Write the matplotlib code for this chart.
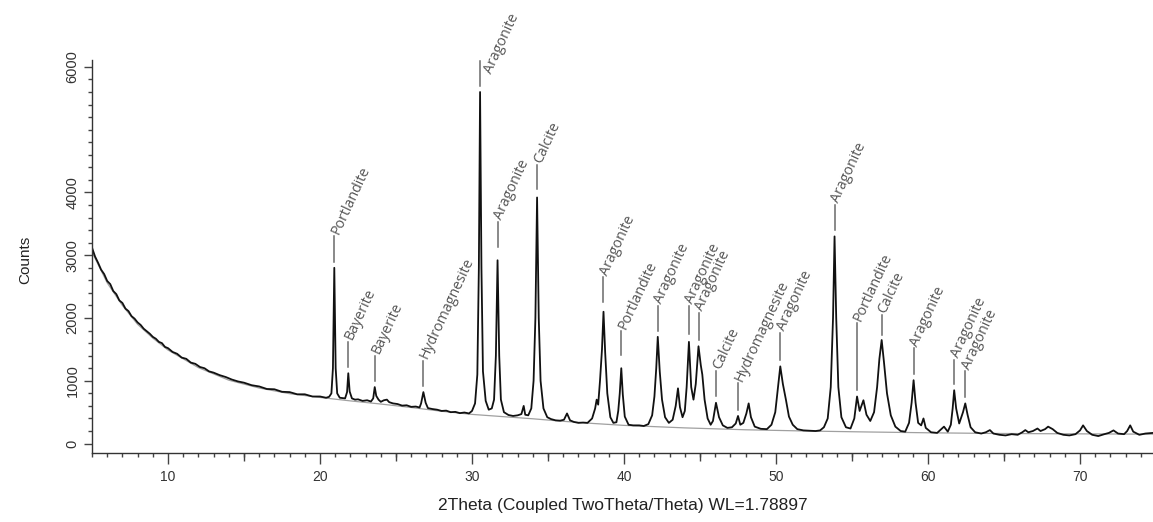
"""XRD pattern (Co K-alpha, WL=1.78897) with phase markers."""
import matplotlib
matplotlib.use("Agg")
import matplotlib.pyplot as plt
from matplotlib.ticker import MultipleLocator
import numpy as np

trace_low = [
    (5.0, 3120), (5.2, 2980), (5.4, 2880), (5.6, 2770), (5.8, 2700), (6.0, 2590),
    (6.2, 2540), (6.4, 2430), (6.6, 2380), (6.8, 2280), (7.0, 2240), (7.2, 2150),
    (7.4, 2110), (7.6, 2030), (7.8, 1990), (8.0, 1930), (8.2, 1890), (8.4, 1830),
    (8.6, 1790), (8.8, 1750), (9.0, 1700), (9.2, 1670), (9.4, 1620), (9.6, 1600),
    (9.8, 1540), (10.0, 1520), (10.3, 1460), (10.6, 1430), (10.9, 1370), (11.2, 1350),
    (11.5, 1290), (11.8, 1270), (12.1, 1220), (12.4, 1200), (12.7, 1150), (13.0, 1130),
    (13.4, 1090), (13.8, 1060), (14.2, 1020), (14.6, 990), (15.0, 970), (15.5, 930),
    (16.0, 910), (16.5, 870), (17.0, 865), (17.5, 825), (18.0, 820), (18.5, 785),
    (19.0, 785), (19.5, 750), (20.0, 750), (20.4, 730),
]
trace_mid = [
    (20.6, 745), (20.75, 800), (20.85, 1200), (20.94, 2800), (21.03, 1200), (21.13, 800),
    (21.3, 730), (21.5, 725), (21.65, 720), (21.78, 820), (21.86, 1120), (21.95, 830),
    (22.1, 720), (22.3, 700), (22.5, 705), (22.8, 680), (23.1, 690), (23.35, 670),
    (23.5, 720), (23.6, 900), (23.7, 760), (23.85, 700), (24.0, 665), (24.2, 690),
    (24.4, 700), (24.55, 660), (24.8, 640), (25.1, 630), (25.4, 605), (25.7, 610),
    (26.0, 585), (26.3, 590), (26.55, 575), (26.65, 640), (26.8, 820), (26.95, 650),
    (27.1, 565), (27.4, 550), (27.7, 540), (28.0, 520), (28.3, 525), (28.6, 500),
    (28.9, 505), (29.2, 485), (29.5, 495), (29.8, 480), (30.0, 520), (30.2, 640),
    (30.35, 1100), (30.45, 2800), (30.53, 5600), (30.62, 2800), (30.72, 1150), (30.9, 680),
    (31.1, 540), (31.3, 560), (31.45, 700), (31.57, 1400), (31.68, 2920), (31.79, 1400),
    (31.9, 700), (32.1, 500), (32.4, 455), (32.7, 440), (33.0, 450), (33.25, 470),
    (33.4, 600), (33.5, 460), (33.7, 450), (33.9, 560), (34.05, 1000), (34.17, 2000),
    (34.28, 3920), (34.39, 2000), (34.51, 1000), (34.7, 560), (34.95, 420), (35.2, 390),
    (35.5, 370), (35.8, 365), (36.05, 380), (36.25, 480), (36.45, 370), (36.7, 345),
    (37.0, 330), (37.3, 335), (37.6, 330), (37.9, 400), (38.1, 560), (38.2, 700),
    (38.3, 620), (38.42, 1000), (38.55, 1500), (38.65, 2100), (38.76, 1450), (38.9, 800),
    (39.1, 420), (39.3, 330), (39.5, 340), (39.62, 520), (39.72, 800), (39.82, 1200),
    (39.92, 780), (40.05, 430), (40.3, 300),
]
trace_high = [
    (40.6, 290), (41.0, 290), (41.3, 280), (41.6, 310), (41.85, 450), (42.0, 750),
    (42.12, 1200), (42.22, 1700), (42.35, 1150), (42.5, 700), (42.7, 420), (42.95, 330),
    (43.2, 380), (43.4, 600), (43.55, 880), (43.68, 580), (43.85, 420), (44.0, 520),
    (44.12, 900), (44.27, 1620), (44.42, 900), (44.57, 700), (44.72, 950), (44.9, 1550),
    (45.05, 1250), (45.15, 1100), (45.3, 700), (45.5, 400), (45.7, 300), (45.85, 360),
    (46.05, 650), (46.25, 420), (46.5, 290), (46.8, 250), (47.1, 260), (47.35, 320),
    (47.5, 440), (47.65, 300), (47.85, 330), (48.05, 480), (48.2, 640), (48.35, 420),
    (48.6, 270), (49.0, 235), (49.4, 230), (49.7, 300), (49.95, 500), (50.12, 880),
    (50.28, 1230), (50.45, 950), (50.65, 700), (50.85, 430), (51.1, 300), (51.4, 230),
    (51.8, 210), (52.2, 205), (52.6, 200), (52.9, 210), (53.15, 260), (53.4, 400),
    (53.6, 900), (53.75, 2000), (53.85, 3300), (53.96, 2000), (54.1, 900), (54.3, 420),
    (54.6, 260), (54.9, 240), (55.15, 400), (55.33, 750), (55.5, 520), (55.75, 690),
    (55.95, 460), (56.2, 360), (56.45, 500), (56.65, 900), (56.8, 1350), (56.95, 1650),
    (57.1, 1300), (57.3, 800), (57.55, 450), (57.85, 270), (58.2, 200), (58.5, 190),
    (58.75, 330), (58.92, 650), (59.05, 1010), (59.18, 650), (59.35, 330), (59.55, 290),
    (59.7, 400), (59.85, 250), (60.2, 180), (60.6, 170), (61.05, 270), (61.3, 190),
    (61.5, 300), (61.62, 560), (61.72, 850), (61.85, 560), (62.05, 320), (62.3, 500),
    (62.45, 640), (62.6, 460), (62.8, 260), (63.1, 180), (63.5, 160), (63.8, 180),
    (64.07, 215), (64.3, 160), (64.7, 140), (65.1, 130), (65.5, 150), (65.9, 140),
    (66.2, 180), (66.4, 215), (66.6, 180), (66.9, 200), (67.2, 240), (67.4, 200),
    (67.7, 230), (67.9, 270), (68.2, 230), (68.5, 170), (68.9, 140), (69.3, 130),
    (69.7, 150), (70.0, 210), (70.2, 290), (70.45, 200), (70.8, 140), (71.2, 120),
    (71.6, 150), (71.9, 170), (72.2, 210), (72.5, 160), (72.9, 150), (73.1, 200),
    (73.3, 290), (73.5, 190), (73.9, 140), (74.3, 160), (74.8, 170),
]

# fitted background (thin grey line)
bg_theta = [5, 6, 7, 8, 9, 10, 12, 14, 16, 18, 20, 22, 24, 26, 28, 30, 32, 34, 36, 38,
            40, 44, 48, 52, 56, 60, 64, 68, 72, 74.8]
bg_counts = [3050, 2560, 2200, 1900, 1680, 1490, 1210, 1010, 885, 795, 735, 680, 630, 575,
             515, 465, 430, 395, 355, 320, 290, 250, 220, 200, 185, 172, 162, 157, 153, 150]

# phase markers: name, 2theta, marker bottom / top (counts)
phase_names = ["Portlandite", "Bayerite", "Bayerite", "Hydromagnesite", "Aragonite",
               "Aragonite", "Calcite", "Aragonite", "Portlandite", "Aragonite",
               "Aragonite", "Aragonite", "Calcite", "Hydromagnesite", "Aragonite",
               "Aragonite", "Portlandite", "Calcite", "Aragonite", "Aragonite", "Aragonite"]
phase_pos = [20.94, 21.86, 23.6, 26.8, 30.53, 31.68, 34.28, 38.65, 39.82, 42.22,
             44.27, 44.9, 46.05, 47.5, 50.28, 53.85, 55.33, 56.95, 59.05, 61.72, 62.45]
marker_lo = [2900, 1220, 1000, 920, 5700, 3130, 4050, 2250, 1410, 1790,
             1750, 1650, 750, 540, 1330, 3400, 850, 1730, 1110, 950, 740]
marker_hi = [3300, 1620, 1400, 1320, 6100, 3530, 4430, 2650, 1790, 2190,
             2190, 2080, 1150, 960, 1760, 3800, 1920, 2050, 1520, 1330, 1150]

W, H = 1153, 522
fig = plt.figure(figsize=(W / 100, H / 100), dpi=100)
ax = fig.add_axes([92 / W, 69 / H, 1 - 92 / W, 393 / H])

tt = np.array([p[0] for p in trace_low + trace_mid + trace_high])
cc = np.array([p[1] for p in trace_low + trace_mid + trace_high])

ax.plot(bg_theta, bg_counts, color="#a0a0a0", lw=0.9, zorder=1)
ax.plot(tt, cc, color="#111111", lw=1.3, zorder=2)

for name, x, lo, hi in zip(phase_names, phase_pos, marker_lo, marker_hi):
    ax.plot([x, x], [lo, hi], color="#6a6a6a", lw=1.1, clip_on=False, zorder=3)
    # the tallest label is pushed down beside its marker so it stays in the frame
    offset = (6, -9) if hi > 6000 else (0.5, 2)
    ax.annotate(name, xy=(x, hi), xytext=offset, textcoords="offset points",
                rotation=65, rotation_mode="anchor", ha="left", va="center",
                fontsize=10.3, color="#555555", family=["Open Sans", "DejaVu Sans"],
                annotation_clip=False)

ax.set_xlim(5, 74.8)
ax.set_ylim(-150, 6110)

for s in ("top", "right"):
    ax.spines[s].set_visible(False)
for s in ("left", "bottom"):
    ax.spines[s].set_color("#333333")
    ax.spines[s].set_linewidth(1.0)

ax.xaxis.set_major_locator(MultipleLocator(10))
ax.xaxis.set_minor_locator(MultipleLocator(1))
ax.yaxis.set_minor_locator(MultipleLocator(200))
ax.set_yticks([0, 1000, 2000, 3000, 4000, 6000])
ax.tick_params(axis="x", which="major", length=8, width=1, color="#444444",
               labelsize=10, labelcolor="#333333", pad=4)
ax.tick_params(axis="x", which="minor", length=3, width=1, color="#444444")
ax.tick_params(axis="y", which="major", length=6, width=1, color="#444444",
               labelsize=10.5, labelcolor="#333333", pad=3)
ax.tick_params(axis="y", which="minor", length=3, width=1, color="#444444")
for lab in ax.get_yticklabels():
    lab.set_rotation(90)
    lab.set_va("center")
    lab.set_family("Liberation Sans")
for lab in ax.get_xticklabels():
    lab.set_family("Liberation Sans")

# medium ticks every 5 degrees
sec = ax.secondary_xaxis("bottom")
sec.set_xticks([15, 25, 35, 45, 55, 65])
sec.tick_params(length=5.5, width=1, color="#444444", labelbottom=False)
sec.spines["bottom"].set_visible(False)

ax.set_xlabel("2Theta (Coupled TwoTheta/Theta) WL=1.78897", fontsize=12.5,
              family="Liberation Sans", color="#222222", labelpad=10)
fig.text(25 / W, 1 - 260 / H, "Counts", rotation=90, ha="center", va="center",
         fontsize=11, family="Liberation Sans", color="#222222")

fig.savefig("out.png", dpi=100)
